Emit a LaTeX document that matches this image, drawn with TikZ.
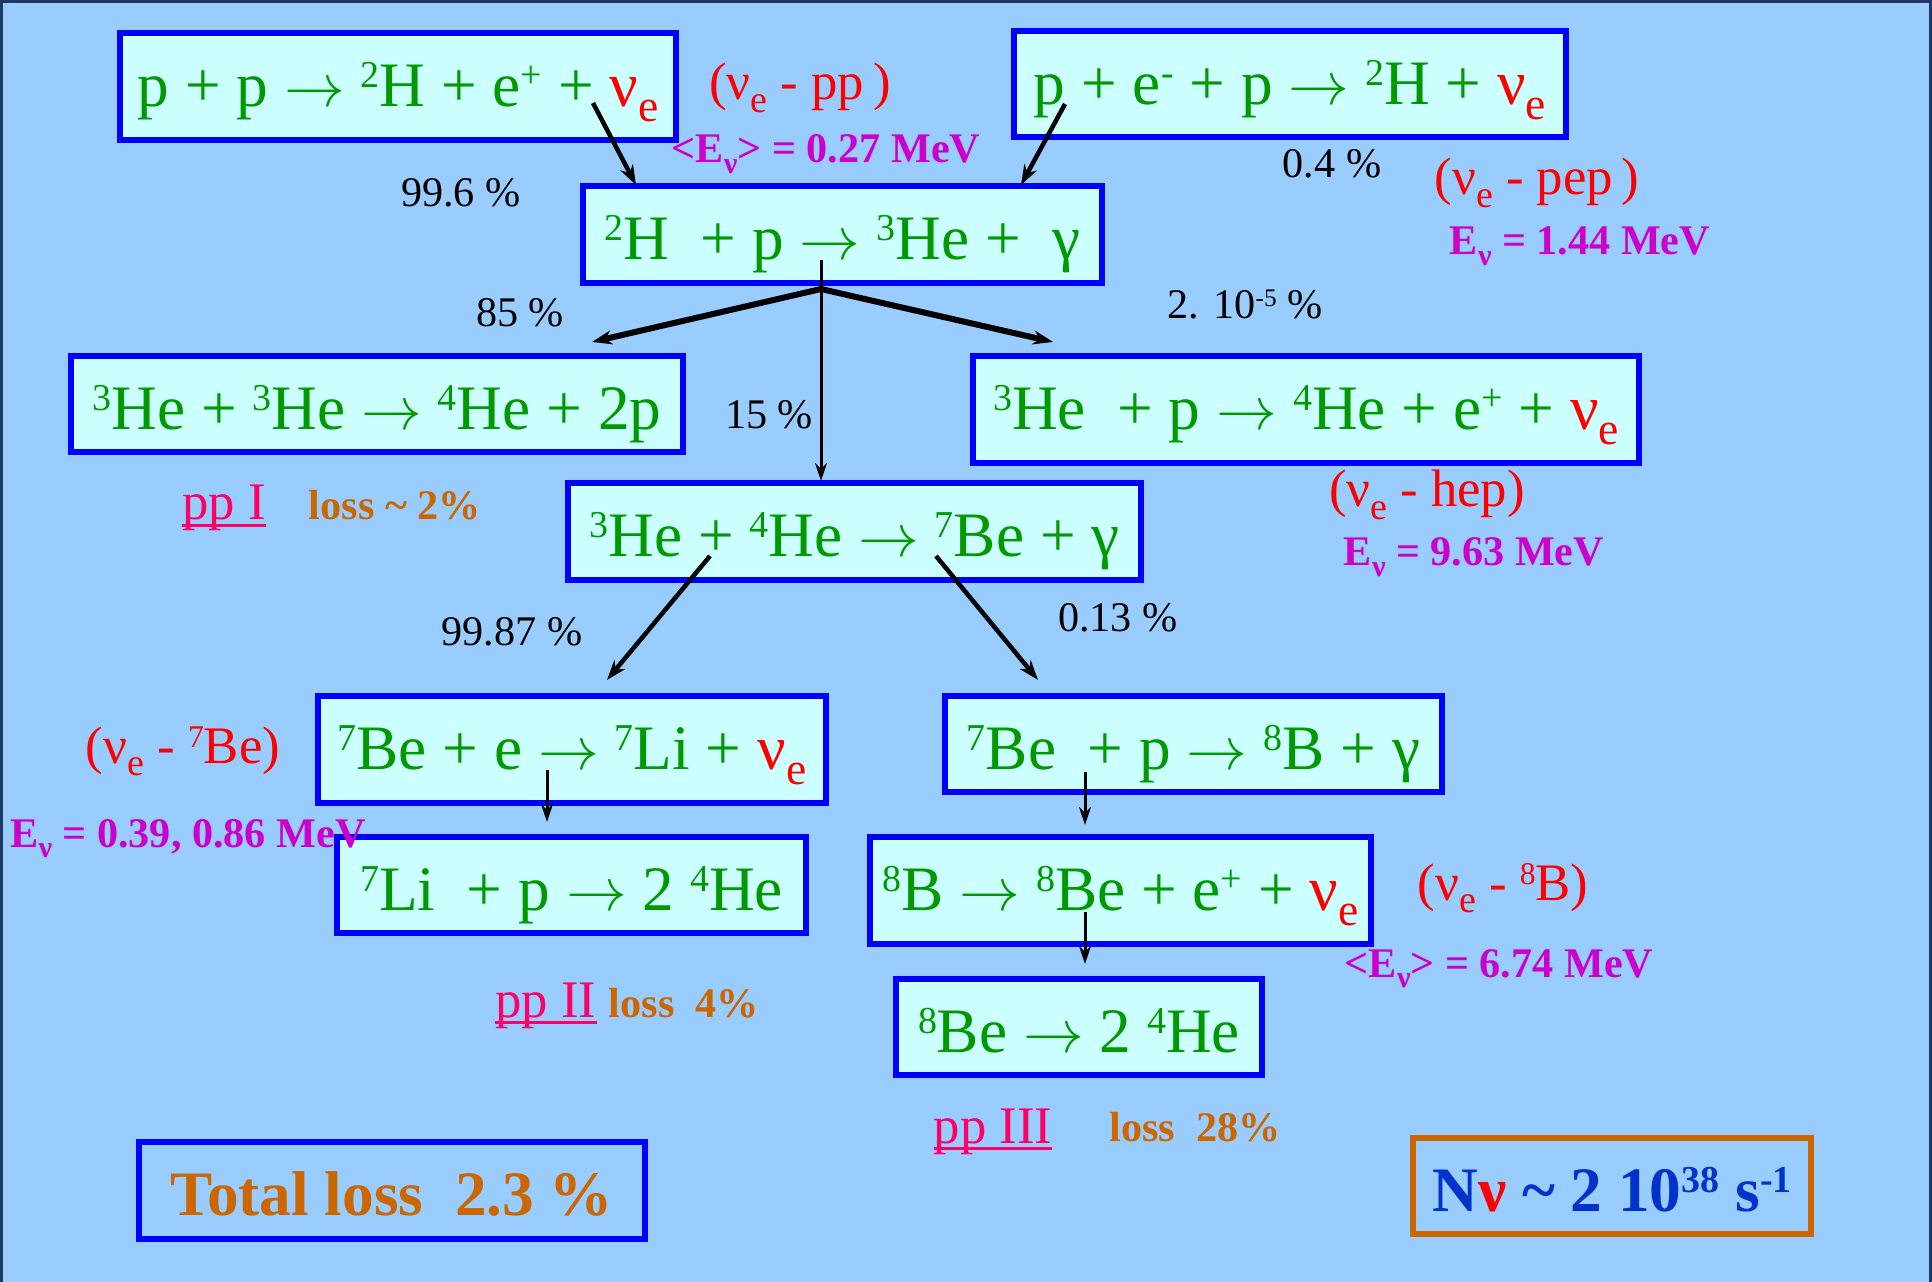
\documentclass[tikz,border=0pt]{standalone}
\usepackage{fontspec}
\usepackage{graphicx}
\setmainfont{Liberation Serif}
\usetikzlibrary{arrows.meta,calc}
\definecolor{bgblue}{HTML}{99CCFF}
\definecolor{cyanbg}{HTML}{CCFFFF}
\definecolor{bblue}{HTML}{0000FF}
\definecolor{rgreen}{HTML}{009900}
\definecolor{emag}{HTML}{CC00CC}
\definecolor{lorange}{HTML}{CC6600}
\definecolor{ppink}{HTML}{FF0066}
\definecolor{nblue}{HTML}{0033CC}
\definecolor{framec}{HTML}{1F3864}
\newcommand\upi[1]{\raisebox{0.3em}{\scalebox{0.6}{#1}}}
\newcommand\dnsub[1]{\raisebox{-0.24em}{\scalebox{0.72}{#1}}}
\newcommand\nuE{{\color{red}ν\dnsub{e}}}
\newcommand\iso[2]{\upi{#1}#2}
\newcommand\rarr{\ensuremath{\rightarrow}}
\newcommand\ppul[1]{\setbox0\hbox{#1}\rlap{\rule[-0.07cm]{\wd0}{0.03cm}}\box0}
\tikzset{
  rbox/.style={draw=bblue, fill=cyanbg, line width=0.06cm, inner sep=0pt,
    text=rgreen, font=\fontsize{18}{20}\selectfont, text height=0.5cm, text depth=0cm},
  nubox/.style={rbox, text height=0.4cm},
  lbl/.style={anchor=base, inner sep=0pt, font=\fontsize{12}{14}\selectfont},
  nulbl/.style={anchor=base, inner sep=0pt, text=red, font=\fontsize{15}{17}\selectfont},
  elbl/.style={anchor=base, inner sep=0pt, text=emag, font=\fontsize{12}{14}\selectfont\bfseries},
  pplbl/.style={anchor=base, inner sep=0pt, text=ppink, font=\fontsize{15}{17}\selectfont},
  losslbl/.style={anchor=base, inner sep=0pt, text=lorange, font=\fontsize{12}{14}\selectfont\bfseries},
  arr/.style={-{Stealth[length=0.2cm,width=0.14cm]}, line width=0.045cm},
  thinarr/.style={-{Stealth[length=0.18cm,width=0.12cm]}, line width=0.03cm},
  fatline/.style={line width=0.06cm},
}
\begin{document}
\begin{tikzpicture}[x=0.01cm, y=-0.01cm]
\useasboundingbox (0,0) rectangle (1932,1282);
\fill[bgblue] (0,0) rectangle (1932,1282);
\draw[framec, line width=0.03cm] (1.5,1282) -- (1.5,1.5) -- (1930.5,1.5) -- (1930.5,1282);

% reaction boxes
\node[nubox, minimum width=5.56cm, minimum height=1.07cm] (A) at (398,86.5)
  {p + p \rarr{} \iso{2}{H} + e\upi{+} + \nuE};
\node[nubox, minimum width=5.52cm, minimum height=1.06cm] (B) at (1290,84)
  {p + e\upi{-} + p \rarr{} \iso{2}{H} + \nuE};
\node[rbox, minimum width=5.19cm, minimum height=0.97cm] (C) at (842.5,234.5)
  {\iso{2}{H}\ \ + p \rarr{} \iso{3}{He} +\ \ γ};
\node[rbox, minimum width=6.12cm, minimum height=0.96cm] (D) at (377,404)
  {\iso{3}{He} + \iso{3}{He} \rarr{} \iso{4}{He} + 2p};
\node[nubox, minimum width=6.66cm, minimum height=1.07cm] (E) at (1306,409.5)
  {\iso{3}{He}\ \ + p \rarr{} \iso{4}{He} + e\upi{+} + \nuE};
\node[rbox, minimum width=5.73cm, minimum height=0.97cm] (F) at (854.5,531.5)
  {\iso{3}{He} + \iso{4}{He} \rarr{} \iso{7}{Be} + γ};
\node[nubox, minimum width=5.08cm, minimum height=1.07cm] (G) at (572,749.5)
  {\iso{7}{Be} + e \rarr{} \iso{7}{Li} + \nuE};
\node[rbox, minimum width=4.97cm, minimum height=0.96cm] (H) at (1193.5,744)
  {\iso{7}{Be}\ \ + p \rarr{} \iso{8}{B} + γ};
\node[rbox, minimum width=4.69cm, minimum height=0.96cm] (I) at (571.5,885)
  {\iso{7}{Li}\ \ + p \rarr{} 2 \iso{4}{He}};
\node[nubox, minimum width=5.01cm, minimum height=1.07cm] (J) at (1120.5,890.5)
  {\iso{8}{B} \rarr{} \iso{8}{Be} + e\upi{+} + \nuE};
\node[rbox, minimum width=3.66cm, minimum height=0.96cm] (K) at (1079,1027)
  {\iso{8}{Be} \rarr{} 2 \iso{4}{He}};
\node[rbox, fill=none, text=lorange, font=\fontsize{18}{20}\selectfont\bfseries,
  minimum width=5.06cm, minimum height=0.97cm] (T) at (392,1190.5)
  {Total loss\ \ 2.3 \%};
\node[rbox, fill=none, draw=lorange, text=nblue, font=\fontsize{18}{20}\selectfont\bfseries,
  minimum width=3.98cm, minimum height=0.96cm] (N) at (1612,1186)
  {N{\color{red}ν} \textasciitilde{} 2 10\upi{38} s\upi{-1}};

% labels
\node[nulbl] (lpp) at (800,100) {(ν\dnsub{e} - pp\,)};
\node[elbl] (epp) at (826,163) {<E\dnsub{ν}> = 0.27 MeV};
\node[lbl] (p996) at (461,207) {99.6 \%};
\node[lbl] (p04) at (1332,178) {0.4 \%};
\node[nulbl] (lpep) at (1537,195) {(ν\dnsub{e} - pep\,)};
\node[elbl] (epep) at (1580,255) {E\dnsub{ν} = 1.44 MeV};
\node[lbl] (p85) at (520,327) {85 \%};
\node[lbl] (p2e5) at (1245,319) {2. 10\upi{-5} \%};
\node[lbl] (p15) at (769,429) {15 \%};
\node[pplbl] (ppI) at (224,520) {\ppul{pp I}};
\node[losslbl] (lossI) at (395,519) {loss \textasciitilde{} 2\%};
\node[nulbl] (lhep) at (1427,507) {(ν\dnsub{e} - hep)};
\node[elbl] (ehep) at (1474,566) {E\dnsub{ν} = 9.63 MeV};
\node[lbl] (p9987) at (512,645) {99.87 \%};
\node[lbl] (p013) at (1118,632) {0.13 \%};
\node[nulbl] (lbe) at (183,763) {(ν\dnsub{e} - \iso{7}{Be})};
\node[elbl] (ebe) at (188,847) {E\dnsub{ν} = 0.39, 0.86 MeV};
\node[pplbl] (ppII) at (546,1017) {\ppul{pp II}};
\node[losslbl] (lossII) at (684,1017) {loss\ \ 4\%};
\node[nulbl] (lb8) at (1503,900) {(ν\dnsub{e} - \iso{8}{B})};
\node[elbl] (eb8) at (1499,977) {<E\dnsub{ν}> = 6.74 MeV};
\node[pplbl] (ppIII) at (993,1143) {\ppul{pp III}};
\node[losslbl] (lossIII) at (1195,1141) {loss\ \ 28\%};

% connectors
\coordinate (fork) at ($(C.center)+(-21.5,54.5)$);
\draw[arr] ($(A.center)+(195,16.5)$) -- ($(C.north)+(-206.5,2)$);
\draw[arr] ($(B.center)+(-225,20)$) -- ($(C.north)+(178.5,2)$);
\draw[thinarr] ($(C.center)+(-21.5,25.5)$) -- ($(F.north)+(-33.5,1)$);
\draw[arr, fatline] (fork) -- ($(D.north)+(215,-11)$);
\draw[arr, fatline] (fork) -- ($(E.north)+(-253,-11)$);
\draw[arr] ($(F.center)+(-144.5,24.5)$) -- ($(G.north)+(35,-13)$);
\draw[arr] ($(F.center)+(81.5,24.5)$) -- ($(H.north)+(-155.5,-13)$);
\draw[thinarr] ($(G.center)+(-25,20.5)$) -- ($(I.north)+(-24.5,-12)$);
\draw[thinarr] ($(H.center)+(-108.5,28)$) -- ($(J.north)+(-35.5,-9)$);
\draw[thinarr] ($(J.center)+(-35.5,21.5)$) -- ($(K.north)+(6,-12)$);
\end{tikzpicture}
\end{document}
